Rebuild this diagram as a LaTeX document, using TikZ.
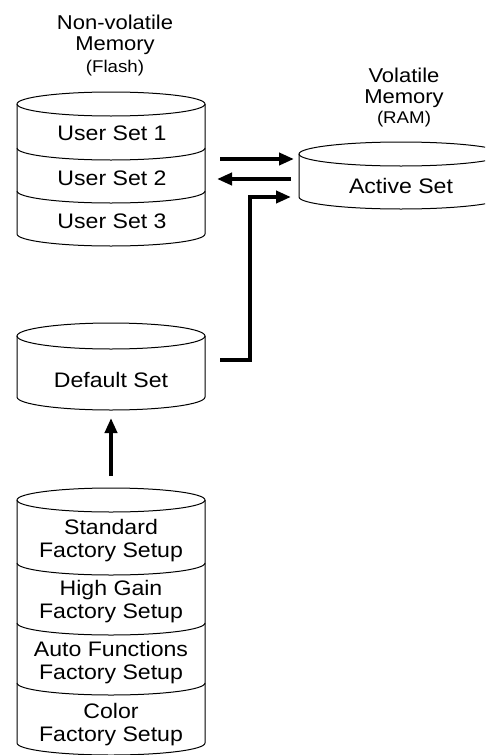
\documentclass[tikz,border=0pt]{standalone}
\usepackage{fontspec}
\setmainfont[FakeStretch=1.1]{Liberation Sans}
\usetikzlibrary{arrows.meta, positioning, calc}
\tikzset{
	body/.style={rectangle, draw=none, inner sep=0pt, outer sep=0pt},
	cyl/.style={draw=black, line width=1pt},
	setlabel/.style={align=center, inner sep=0pt, font=\fontsize{21}{23}\selectfont},
	memlabel/.style={align=center, inner sep=0pt, font=\fontsize{20}{21}\selectfont},
	sublabel/.style={align=center, inner sep=0pt, font=\fontsize{17}{18}\selectfont},
	move/.style={-{Triangle[length=15pt, width=12pt]}, line width=4pt},
}

\begin{document}
\begin{tikzpicture}[x=1pt, y=1pt]
	\useasboundingbox (0,0) rectangle (485,-755);
	\clip (0,0) rectangle (485,-755);

	% cylinder bodies
	\node[body, minimum width=188pt, minimum height=130pt] (flash) at (111,-169) {};
	\node[body, minimum width=204pt, minimum height=43pt] (ram) at (401,-175.5) {};
	\node[body, minimum width=188pt, minimum height=61pt] (dflt) at (111,-366.5) {};
	\node[body, minimum width=188pt, minimum height=243pt] (factory) at (111,-621.5) {};

	% non-volatile memory
	\draw[cyl] (flash.north) ellipse (94 and 12);
	\draw[cyl] (flash.north west) -- (flash.south west) arc (180:360:94 and 12) -- (flash.north east);
	\foreach \y in {148,191}
		\draw[cyl] (17,-\y) arc (180:360:94 and 12);

	% volatile memory
	\draw[cyl] (ram.north) ellipse (102 and 12);
	\draw[cyl] (ram.north west) -- (ram.south west) arc (180:360:102 and 12) -- (ram.north east);

	% default set
	\draw[cyl] (dflt.north) ellipse (94 and 13);
	\draw[cyl] (dflt.north west) -- (dflt.south west) arc (180:360:94 and 13) -- (dflt.north east);

	% factory setups
	\draw[cyl] (factory.north) ellipse (94 and 12);
	\draw[cyl] (factory.north west) -- (factory.south west) arc (180:360:94 and 12) -- (factory.north east);
	\foreach \y in {563,623,683}
		\draw[cyl] (17,-\y) arc (180:360:94 and 12);

	% labels
	\node[memlabel] (flashname) at (115,-35) {Non-volatile\\Memory};
	\node[sublabel, below=5pt of flashname] (flashtype) {(Flash)};
	\node[memlabel] (ramname) at (404,-87.5) {Volatile\\Memory};
	\node[sublabel, below=3pt of ramname] (ramtype) {(RAM)};

	\node[setlabel] (user1) at (112,-133) {User Set 1};
	\node[setlabel] (user2) at (112,-178) {User Set 2};
	\node[setlabel] (user3) at (112,-221.5) {User Set 3};
	\node[setlabel] (active) at (401,-186) {Active Set};
	\node[setlabel] (default) at (111,-379.5) {Default Set};
	\node[setlabel] (standard) at (111,-540.5) {Standard\\Factory Setup};
	\node[setlabel] (highgain) at (111,-602) {High Gain\\Factory Setup};
	\node[setlabel] (autofn) at (111,-663) {Auto Functions\\Factory Setup};
	\node[setlabel] (color) at (111,-724.5) {Color\\Factory Setup};

	% transfers
	\draw[move] ([shift={(15pt,-5pt)}]flash.east |- ram.north) -- ([shift={(-5pt,-5pt)}]ram.north west);
	\draw[move] ([shift={(-8pt,-25pt)}]ram.north west) -- ([shift={(12pt,-25pt)}]flash.east |- ram.north);
	\draw[move] ([shift={(15pt,7pt)}]dflt.east) -- ++(30,0) |- ([xshift=-8pt]ram.south west);
	\draw[move] ([yshift=24pt]factory.north) -- ([yshift=-21pt]dflt.south);
\end{tikzpicture}
\end{document}
